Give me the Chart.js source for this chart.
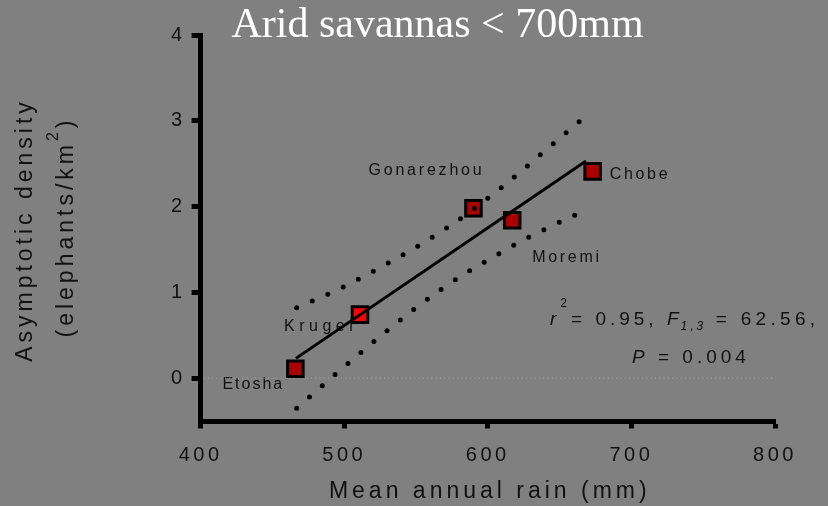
<!DOCTYPE html>
<html>
<head>
<meta charset="utf-8">
<script src="https://cdn.jsdelivr.net/npm/chart.js@4.4.1/dist/chart.umd.min.js"></script>
<style>
  html, body { margin: 0; padding: 0; background: #808080; }
  #wrap { width: 828px; height: 506px; }
</style>
</head>
<body>
<div id="wrap"><canvas id="c" width="828" height="506"></canvas></div>
<script>
// ---- data ----
const sites = ['Etosha', 'Kruger', 'Gonarezhou', 'Moremi', 'Chobe'];
const rainfall = [466, 511, 590, 617, 673];
const density = [0.11, 0.74, 1.98, 1.84, 2.41];
const siteColors = ['#aa0000', '#ff0000', '#aa0000', '#aa0000', '#aa0000'];

const fitX = [466.4, 668.4];
const fitY = [0.23, 2.53];

const upperX = [466.9, 499, 572.3, 610.8, 647.5, 665.8];
const upperY = [0.82, 1.06, 1.76, 2.24, 2.76, 3.02];
const lowerX = [466.9, 493.6, 530.3, 568.8, 609.7, 641.4, 663.5];
const lowerY = [-0.35, 0.04, 0.56, 1.05, 1.47, 1.75, 1.92];

const zeroX = [402, 798];
const zeroY = [0, 0];

const xTicks = [400, 500, 600, 700, 800];
const yTicks = [0, 1, 2, 3, 4];

const titleText = 'Arid savannas < 700mm';
const xTitle = 'Mean annual rain (mm)';
const yTitle1 = 'Asymptotic density';
const yTitle2a = '(elephants/km';
const yTitle2sup = '2';
const yTitle2b = ')';

// label placement (pixels) relative to each marker, and letter spacing
const labelOffsets = [[-73, 20], [-76, 16], [-105, -33], [20, 42], [17, 8]];
const labelSpacing = [2, 4.5, 2.8, 2.7, 2.7];

const pts = (xs, ys) => xs.map((x, i) => ({ x: x, y: ys[i] }));

const SANS = '"Liberation Sans", Arial, sans-serif';
const SERIF = '"Liberation Serif", "Times New Roman", serif';

function drawRuns(ctx, runs, x, y, align) {
  let total = 0;
  const ws = runs.map(r => {
    ctx.font = r.font;
    ctx.letterSpacing = (r.ls || 0) + 'px';
    const w = ctx.measureText(r.t).width;
    total += w;
    return w;
  });
  let cx = align === 'center' ? x - total / 2 : (align === 'right' ? x - total : x);
  ctx.textAlign = 'left';
  ctx.textBaseline = 'alphabetic';
  runs.forEach((r, i) => {
    ctx.font = r.font;
    ctx.letterSpacing = (r.ls || 0) + 'px';
    ctx.fillText(r.t, cx, y + (r.dy || 0));
    cx += ws[i];
  });
}

const textPlugin = {
  id: 'texts',
  beforeDraw(chart) {
    const ctx = chart.ctx;
    ctx.save();
    ctx.fillStyle = '#808080';
    ctx.fillRect(0, 0, chart.width, chart.height);
    ctx.restore();
    ctx.letterSpacing = '3.5px';
  },
  beforeDatasetsDraw(chart) {
    const ctx = chart.ctx;
    const meta = chart.getDatasetMeta(1);
    ctx.save();
    ctx.fillStyle = '#111111';
    sites.forEach((s, i) => {
      const el = meta.data[i];
      drawRuns(ctx, [{ t: s, font: '16px ' + SANS, ls: labelSpacing[i] }],
        el.x + labelOffsets[i][0], el.y + labelOffsets[i][1], 'left');
    });
    ctx.restore();
  },
  afterDraw(chart) {
    const ctx = chart.ctx;
    const a = chart.chartArea;
    ctx.save();
    // title
    ctx.fillStyle = '#ffffff';
    drawRuns(ctx, [{ t: titleText, font: '42px ' + SERIF, ls: 0 }], 437.5, 37, 'center');
    // x title
    ctx.fillStyle = '#111111';
    drawRuns(ctx, [{ t: xTitle, font: '23px ' + SANS, ls: 4 }], (a.left + a.right) / 2 + 2, 498, 'center');
    // y title
    ctx.save();
    ctx.translate(0, (a.top + a.bottom) / 2 + 2);
    ctx.rotate(-Math.PI / 2);
    drawRuns(ctx, [{ t: yTitle1, font: '23px ' + SANS, ls: 4 }], 0, 31.7, 'center');
    drawRuns(ctx, [
      { t: yTitle2a, font: '23px ' + SANS, ls: 4 },
      { t: yTitle2sup, font: '16px ' + SANS, ls: 4, dy: -15 },
      { t: yTitle2b, font: '23px ' + SANS, ls: 4 }
    ], 3, 73, 'center');
    ctx.restore();
    // statistics
    const it = 'italic 19px ' + SANS;
    const rg = '19px ' + SANS;
    const sm = '12px ' + SANS;
    const smi = 'italic 12px ' + SANS;
    drawRuns(ctx, [
      { t: 'r', font: it, ls: 4 },
      { t: '2', font: sm, ls: 4, dy: -18 },
      { t: '= 0.95, ', font: rg, ls: 4 },
      { t: 'F', font: it, ls: 2 },
      { t: '1,3', font: smi, ls: 3, dy: 5 },
      { t: ' = 62.56,', font: rg, ls: 4.3 }
    ], 550, 325, 'left');
    drawRuns(ctx, [
      { t: 'P', font: it, ls: 4 },
      { t: ' = 0.004', font: rg, ls: 4 }
    ], 632, 363, 'left');
    ctx.restore();
  }
};

const chart = new Chart(document.getElementById('c'), {
  type: 'scatter',
  data: {
    datasets: [
      {
        label: 'zero', type: 'line', data: pts(zeroX, zeroY),
        borderColor: '#a9a9a9', borderWidth: 1, borderDash: [1, 3.3],
        pointRadius: 0, fill: false, order: 5
      },
      {
        label: 'sites', data: pts(rainfall, density),
        pointStyle: 'rect', pointRadius: 11, pointHoverRadius: 11,
        backgroundColor: siteColors, borderColor: '#000000', borderWidth: 3,
        order: 3
      },
      {
        label: 'fit', type: 'line', data: pts(fitX, fitY),
        borderColor: '#000000', borderWidth: 3, pointRadius: 0, fill: false, order: 1
      },
      {
        label: 'upper95', type: 'line', data: pts(upperX, upperY),
        borderColor: '#000000', borderWidth: 5, borderDash: [0, 17], borderCapStyle: 'round',
        cubicInterpolationMode: 'monotone', pointRadius: 0, fill: false, order: 1
      },
      {
        label: 'lower95', type: 'line', data: pts(lowerX, lowerY),
        borderColor: '#000000', borderWidth: 5, borderDash: [0, 17], borderCapStyle: 'round',
        cubicInterpolationMode: 'monotone', pointRadius: 0, fill: false, order: 1
      }
    ]
  },
  options: {
    responsive: false,
    animation: false,
    devicePixelRatio: 1,
    layout: { padding: { left: 0, right: 53, top: 35, bottom: 0 } },
    plugins: { legend: { display: false }, tooltip: { enabled: false }, title: { display: false } },
    scales: {
      x: {
        type: 'linear', min: 400, max: 800,
        afterFit: s => { s.height = 85; },
        afterBuildTicks: s => { s.ticks = xTicks.map(v => ({ value: v })); },
        ticks: { color: '#111111', font: { family: SANS, size: 20 }, padding: 15, maxRotation: 0 },
        grid: { drawOnChartArea: false, tickLength: 7.5, tickWidth: 5, tickColor: '#000000' },
        border: { color: '#000000', width: 5 }
      },
      y: {
        type: 'linear', min: -0.5, max: 4,
        afterFit: s => { s.width = 200.6; },
        afterBuildTicks: s => { s.ticks = yTicks.map(v => ({ value: v })); },
        ticks: { color: '#111111', font: { family: SANS, size: 20 }, padding: 6 },
        grid: { drawOnChartArea: false, tickLength: 9, tickWidth: 5, tickColor: '#000000' },
        border: { color: '#000000', width: 5 }
      }
    }
  },
  plugins: [textPlugin]
});
</script>
</body>
</html>
